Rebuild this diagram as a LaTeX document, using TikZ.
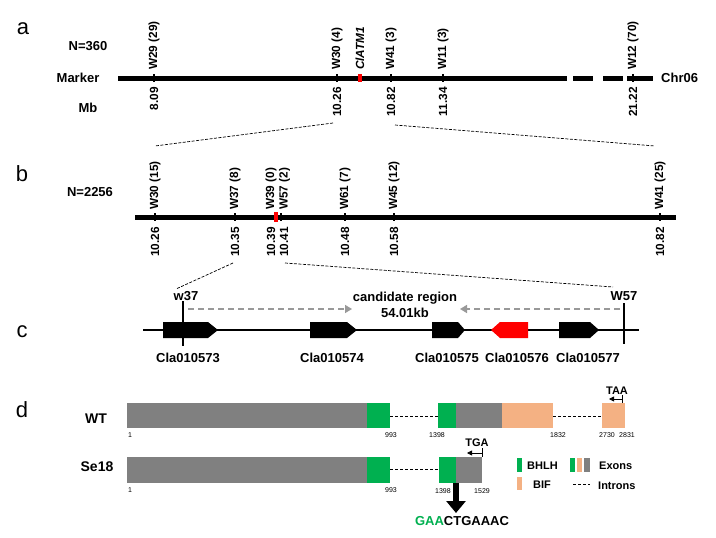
\documentclass[tikz,border=0pt]{standalone}
\usepackage{fontspec}
\setmainfont{Liberation Sans}
\usetikzlibrary{arrows.meta}
\definecolor{exgray}{HTML}{808080}
\definecolor{bhlh}{HTML}{00B050}
\definecolor{bif}{HTML}{F4B183}
\definecolor{arrgray}{HTML}{999999}
\begin{document}
\begin{tikzpicture}[x=1pt,y=-1pt,
  panel/.style={font=\fontsize{22}{22}\selectfont, inner sep=0pt},
  hdr/.style={font=\bfseries\fontsize{13}{13}\selectfont, inner sep=0pt},
  leg/.style={font=\bfseries\fontsize{11}{11}\selectfont, inner sep=0pt},
  mk/.style={font=\bfseries\fontsize{11.8}{11.8}\selectfont, inner sep=0pt, rotate=90},
  up/.style={mk, anchor=west},
  dn/.style={mk, anchor=east},
  posn/.style={font=\fontsize{7}{7}\selectfont, inner sep=0pt},
  chrom/.style={line width=5pt},
  zoomln/.style={line width=0.7pt, dash pattern=on 3pt off 1.5pt},
  intron/.style={line width=0.8pt, dash pattern=on 3pt off 2pt},
  region/.style={arrgray, line width=1.6pt, dash pattern=on 6pt off 4pt, -{Triangle[width=8pt,length=7pt]}},
  stop/.style={line width=0.8pt, -{Triangle[width=5pt,length=5pt]}},
]
\useasboundingbox[fill=white] (0,0) rectangle (716,538);

% ---------------- panel a ----------------
\node[panel] (pa) at (23,29) {a};
\node[hdr] (na) at (88,46) {N=360};
\node[hdr] (marker) at (78,78) {Marker};
\node[hdr] (mb) at (88,108) {Mb};
\draw[chrom] (118,78) -- (567,78);
\draw[chrom] (573,78) -- (593,78);
\draw[chrom] (603,78) -- (623,78);
\draw[chrom] (627,78) -- (653,78);
\node[hdr, anchor=west] (chr) at (661,78) {Chr06};
\foreach \x/\t/\p/\n in {154/W29 (29)/8.09/a1, 337/W30 (4)/10.26/a2, 391/W41 (3)/10.82/a3, 443/W11 (3)/11.34/a4, 633/W12 (70)/21.22/a5}{
  \fill (\x-1.3,74) rectangle (\x+1.3,82);
  \node[up] (\n u) at (\x,70) {\t};
  \node[dn] (\n d) at (\x,87) {\p};
}
\fill[red] (358,74) rectangle (362,82);
\node[up] (clatm) at (360,70) {\textit{ClATM1}};

% zoom lines a -> b
\coordinate (za1) at (333,123);
\coordinate (za2) at (395,125);
\coordinate (zb1) at (155,146);
\coordinate (zb2) at (655,146);
\draw[zoomln] (za1) -- (zb1);
\draw[zoomln] (za2) -- (zb2);

% ---------------- panel b ----------------
\node[panel] (pb) at (22,174) {b};
\node[hdr] (nb) at (90,192) {N=2256};
\draw[chrom] (135,217) -- (676,217);
\foreach \x/\t/\p/\n in {155/W30 (15)/10.26/b1, 235/W37 (8)/10.35/b2, 345/W61 (7)/10.48/b5, 394/W45 (12)/10.58/b6, 660/W41 (25)/10.82/b7}{
  \fill (\x-1.3,213) rectangle (\x+1.3,221);
  \node[up] (\n u) at (\x,210) {\t};
  \node[dn] (\n d) at (\x,227) {\p};
}
\fill (281-1.3,213) rectangle (281+1.3,221);
\fill[red] (274,212) rectangle (278,222);
\node[up] (b3u) at (271,210) {W39 (0)};
\node[up] (b4u) at (284.5,210) {W57 (2)};
\node[dn] (b3d) at (271,227) {10.39};
\node[dn] (b4d) at (284,227) {10.41};

% zoom lines b -> c
\coordinate (zb3) at (233,263);
\coordinate (zb4) at (285,263);
\coordinate (zc1) at (176,289);
\coordinate (zc2) at (613,287);
\draw[zoomln] (zb3) -- (zc1);
\draw[zoomln] (zb4) -- (zc2);

% ---------------- panel c ----------------
\node[panel] (pc) at (22,332) {c};
\draw[line width=2.6pt] (143,330) -- (639,330);
\fill (163,322) -- (208,322) -- (218,330) -- (208,338) -- (163,338) -- cycle;
\fill (310,322) -- (347,322) -- (357,330) -- (347,338) -- (310,338) -- cycle;
\fill (432,322) -- (458,322) -- (465,330) -- (458,338) -- (432,338) -- cycle;
\fill[red] (528,322) -- (500,322) -- (491,330) -- (500,338) -- (528,338) -- cycle;
\fill (559,322) -- (590,322) -- (599,330) -- (590,338) -- (559,338) -- cycle;
\draw[line width=2.6pt] (183,301) -- (183,346);
\draw[line width=2.6pt] (624,303) -- (624,344);
\node[hdr] (w37) at (186,296) {w37};
\node[hdr] (w57) at (624,296) {W57};
\coordinate (ra) at (188,309);
\coordinate (rb) at (352,309);
\coordinate (rc) at (620,309);
\coordinate (rd) at (460,309);
\draw[region] (ra) -- (rb);
\draw[region] (rc) -- (rd);
\node[hdr] (cand) at (405,298) {candidate region};
\node[hdr] (kb) at (405,313) {54.01kb};
\node[hdr] (g1) at (188,358) {Cla010573};
\node[hdr] (g2) at (332,358) {Cla010574};
\node[hdr] (g3) at (447,358) {Cla010575};
\node[hdr] (g4) at (517,358) {Cla010576};
\node[hdr] (g5) at (588,358) {Cla010577};

% ---------------- panel d ----------------
\node[panel] (pd) at (22,410) {d};
\node[font=\bfseries\fontsize{14}{14}\selectfont, inner sep=0pt] (wt) at (96,419) {WT};
\node[font=\bfseries\fontsize{14}{14}\selectfont, inner sep=0pt] (se) at (97,467) {Se18};
% WT
\fill[exgray] (127,403) rectangle (367,428);
\fill[bhlh] (367,403) rectangle (390,428);
\draw[intron] (390,416) -- (438,416);
\fill[bhlh] (438,403) rectangle (456,428);
\fill[exgray] (456,403) rectangle (502,428);
\fill[bif] (502,403) rectangle (553,428);
\draw[intron] (553,416) -- (602,416);
\fill[bif] (602,403) rectangle (625,428);
\node[posn] (p1) at (130,435) {1};
\node[posn] (p2) at (391,435) {993};
\node[posn] (p3) at (437,435) {1398};
\node[posn] (p4) at (558,435) {1832};
\node[posn] (p5) at (607,435) {2730};
\node[posn] (p6) at (627,435) {2831};
\node[leg] (taa) at (617,391) {TAA};
\draw[line width=0.8pt] (622,395) -- (622,403);
\coordinate (taa1) at (622,399);
\coordinate (taa2) at (609,399);
\draw[stop] (taa1) -- (taa2);
% Se18
\fill[exgray] (127,457) rectangle (367,483);
\fill[bhlh] (367,457) rectangle (390,483);
\draw[intron] (390,469) -- (439,469);
\fill[bhlh] (439,457) rectangle (456,483);
\fill[exgray] (456,457) rectangle (482,483);
\node[posn] (q1) at (130,490) {1};
\node[posn] (q2) at (391,490) {993};
\node[posn] (q3) at (443,491) {1398};
\node[posn] (q4) at (482,491) {1529};
\node[leg] (tga) at (477,443) {TGA};
\draw[line width=0.8pt] (482,448) -- (482,457);
\coordinate (tga1) at (482,453);
\coordinate (tga2) at (467,453);
\draw[stop] (tga1) -- (tga2);
\coordinate (mut) at (456,483);
\coordinate (seqtop) at (456,513);
\draw[line width=6pt, -{Triangle[width=19pt,length=12pt]}] (mut) -- (seqtop);
\node[font=\bfseries\fontsize{13}{13}\selectfont, inner sep=0pt] (seq) at (462,521) {\textcolor{bhlh}{GAA}CTGAAAC};
% legend
\fill[bhlh] (517,458) rectangle (522,472);
\node[leg, anchor=west] (lb) at (527,466) {BHLH};
\fill[bif] (517,477) rectangle (522,490);
\node[leg, anchor=west] (lbif) at (533,485) {BIF};
\fill[bhlh] (570,458) rectangle (575,472);
\fill[bif] (577,458) rectangle (582,472);
\fill[exgray] (584,458) rectangle (590,472);
\node[leg, anchor=west] (lex) at (599,466) {Exons};
\draw[intron] (573,484) -- (590,484);
\node[leg, anchor=west] (lin) at (598,486) {Introns};
\end{tikzpicture}
\end{document}
